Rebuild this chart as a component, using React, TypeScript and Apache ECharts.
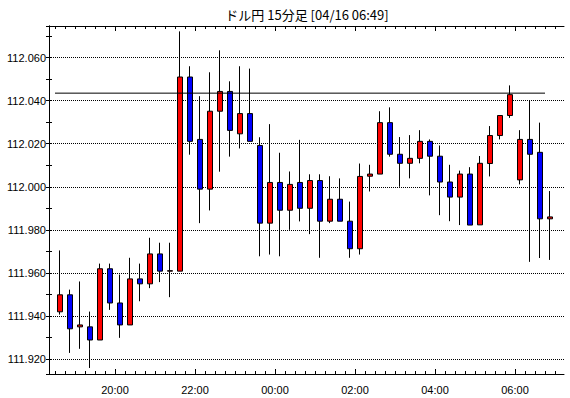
import React, { useEffect, useRef } from "react";
import * as echarts from "echarts";

const chartTitle = "ドル円 15分足 [04/16 06:49]";

const times = [
  "18:30", "18:45", "19:00", "19:15", "19:30", "19:45", "20:00", "20:15", "20:30", "20:45",
  "21:00", "21:15", "21:30", "21:45", "22:00", "22:15", "22:30", "22:45", "23:00", "23:15",
  "23:30", "23:45", "00:00", "00:15", "00:30", "00:45", "01:00", "01:15", "01:30", "01:45",
  "02:00", "02:15", "02:30", "02:45", "03:00", "03:15", "03:30", "03:45", "04:00", "04:15",
  "04:30", "04:45", "05:00", "05:15", "05:30", "05:45", "06:00", "06:15", "06:30", "06:45",
];

const opens = [
  111.9419, 111.9498, 111.9349, 111.9349, 111.9288, 111.9619, 111.946, 111.9358, 111.9572, 111.9549,
  111.9688, 111.9608, 111.9608, 112.051, 112.022, 111.9989, 112.0351, 112.0443, 112.0246, 112.034,
  112.0192, 111.9831, 112.002, 111.9891, 112.002, 111.99, 112.0029, 111.984, 111.9942, 111.984,
  111.9712, 112.0049, 112.0059, 112.0298, 112.0151, 112.0109, 112.0132, 112.0211, 112.0142, 112.0022,
  111.9952, 112.0059, 111.9823, 112.0108, 112.0238, 112.0331, 112.0032, 112.022, 112.016, 111.9851,
];

const closes = [
  111.9498, 111.934, 111.9358, 111.9288, 111.9619, 111.946, 111.9358, 111.9572, 111.9549, 111.9688,
  111.9608, 111.961, 112.051, 112.0211, 111.9989, 112.0351, 112.0443, 112.0262, 112.034, 112.0211,
  111.9831, 112.002, 111.9891, 112.0011, 111.99, 112.0029, 111.984, 111.9942, 111.984, 111.9712,
  112.0048, 112.0059, 112.0298, 112.0151, 112.0109, 112.0132, 112.0211, 112.0142, 112.0022, 111.9952,
  112.0059, 111.9822, 112.0109, 112.0238, 112.0331, 112.0428, 112.022, 112.0151, 111.9851, 111.986,
];

const lows = [
  111.9406, 111.9228, 111.9247, 111.9158, 111.9288, 111.9428, 111.9298, 111.9358, 111.9468, 111.9529,
  111.9557, 111.9487, 111.9608, 112.0149, 111.9831, 111.989, 112.007, 112.014, 112.0178, 112.0211,
  111.9677, 111.9685, 111.9677, 111.98, 111.9839, 111.978, 111.967, 111.9831, 111.984, 111.967,
  111.9685, 111.9978, 112.0059, 112.014, 112.0, 112.0039, 112.0109, 111.996, 111.9868, 111.984,
  111.9822, 111.9822, 111.9823, 112.0048, 112.022, 112.032, 112.0011, 111.9651, 111.9669, 111.966,
];

const highs = [
  111.9704, 111.9522, 111.956, 111.942, 111.9643, 111.9643, 111.9592, 111.967, 111.9643, 111.9763,
  111.974, 111.974, 112.0722, 112.056, 112.0421, 112.0532, 112.0634, 112.049, 112.056, 112.0549,
  112.023, 112.0291, 112.0158, 112.0071, 112.0218, 112.0058, 112.0058, 112.0049, 112.0039, 111.9931,
  112.0108, 112.0102, 112.0351, 112.0369, 112.0231, 112.024, 112.0263, 112.022, 112.0192, 112.0102,
  112.0075, 112.0091, 112.0143, 112.0282, 112.0331, 112.0471, 112.0263, 112.04, 112.0298, 111.998,
];

const xTickLabels = ["20:00", "22:00", "00:00", "02:00", "04:00", "06:00"];

const levelValue = 112.0435;
const levelStartIndex = 0;
const levelEndIndex = 49;

export default function App() {
  const ref = useRef<HTMLDivElement>(null);

  useEffect(() => {
    if (!ref.current) return;
    const chart = echarts.init(ref.current, null, { renderer: "svg" });
    const black = "#000";
    const yMin = 111.913;
    const yMax = 112.0747;
    const candleData = times.map((_, i) => [opens[i], closes[i], lows[i], highs[i]]);

    const frameX = (position: string) => ({
      type: "value",
      gridIndex: 0,
      position,
      min: 0,
      max: 1,
      axisLine: { show: true, onZero: false, lineStyle: { color: black, width: 1 } },
      axisTick: { show: false },
      axisLabel: { show: false },
      splitLine: { show: false },
    });

    const minorX = (position: string) => ({
      type: "category",
      gridIndex: 1,
      position,
      data: times,
      boundaryGap: true,
      axisLine: { show: false, onZero: false },
      axisTick: { show: true, inside: true, length: 3, interval: 0, lineStyle: { color: black } },
      axisLabel: { show: false },
      splitLine: { show: false },
    });

    const majorX = (position: string, withLabels: boolean) => ({
      type: "value",
      gridIndex: 2,
      position,
      min: 0,
      max: 40,
      interval: 8,
      axisLine: { show: false, onZero: false },
      axisTick: { show: true, inside: true, length: 5, lineStyle: { color: black } },
      axisLabel: withLabels
        ? {
            show: true,
            margin: 10,
            showMinLabel: true,
            showMaxLabel: true,
            fontFamily: "Liberation Sans",
            fontSize: 11,
            color: black,
            formatter: (v: number) => xTickLabels[Math.round(v / 8)] ?? "",
          }
        : { show: false },
      splitLine: { show: false },
    });

    const hiddenY = (gridIndex: number) => ({
      type: "value",
      gridIndex,
      min: yMin,
      max: yMax,
      show: false,
      splitLine: { show: false },
    });

    chart.setOption({
      animation: false,
      backgroundColor: "#fff",
      grid: [
        { left: 49, right: 6, top: 26, bottom: 24 },
        { left: 55, right: 15, top: 26, bottom: 24 },
        { left: 115, right: 55, top: 26, bottom: 24 },
      ],
      graphic: [
        {
          type: "text",
          x: 307,
          y: 14,
          style: {
            text: chartTitle,
            fill: black,
            fontSize: 13,
            fontFamily: "Noto Sans CJK JP",
            align: "center",
            verticalAlign: "middle",
          },
        },
      ],
      xAxis: [
        frameX("bottom"),
        frameX("top"),
        minorX("bottom"),
        minorX("top"),
        { type: "value", gridIndex: 1, min: 0, max: 50, show: false, splitLine: { show: false } },
        majorX("bottom", true),
        majorX("top", false),
      ],
      yAxis: [
        {
          type: "value",
          gridIndex: 0,
          position: "left",
          min: yMin,
          max: yMax,
          splitNumber: 8,
          axisLine: { show: true, lineStyle: { color: black, width: 1 } },
          axisTick: { show: true, inside: true, length: 3, lineStyle: { color: black } },
          minorTick: { show: true, splitNumber: 2, length: 3, lineStyle: { color: black } },
          axisLabel: {
            show: true,
            margin: 3,
            showMinLabel: false,
            showMaxLabel: false,
            fontFamily: "Liberation Sans",
            fontSize: 11,
            color: black,
            formatter: (v: number) => v.toFixed(3),
          },
          splitLine: { show: true, lineStyle: { color: black, width: 1, type: [1, 1] } },
        },
        {
          type: "value",
          gridIndex: 0,
          position: "right",
          min: yMin,
          max: yMax,
          splitNumber: 8,
          axisLine: { show: true, lineStyle: { color: black, width: 1 } },
          axisTick: { show: true, inside: true, length: 3, lineStyle: { color: black } },
          minorTick: { show: true, splitNumber: 2, length: 3, lineStyle: { color: black } },
          axisLabel: { show: false },
          splitLine: { show: false },
        },
        hiddenY(1),
        hiddenY(2),
      ],
      series: [
        {
          type: "candlestick",
          xAxisIndex: 2,
          yAxisIndex: 2,
          barWidth: 6,
          data: candleData,
          silent: true,
          itemStyle: {
            color: "#ff0000",
            color0: "#0000ff",
            borderColor: black,
            borderColor0: black,
            borderWidth: 1,
          },
        },
        {
          type: "line",
          xAxisIndex: 4,
          yAxisIndex: 2,
          silent: true,
          symbol: "none",
          lineStyle: { color: black, width: 1 },
          data: [
            [levelStartIndex, levelValue],
            [levelEndIndex, levelValue],
          ],
        },
      ],
    });

    return () => {
      chart.dispose();
    };
  }, []);

  return (
    <div
      ref={ref}
      style={{ position: "fixed", left: 0, top: 0, width: 570, height: 398, background: "#fff" }}
    />
  );
}
